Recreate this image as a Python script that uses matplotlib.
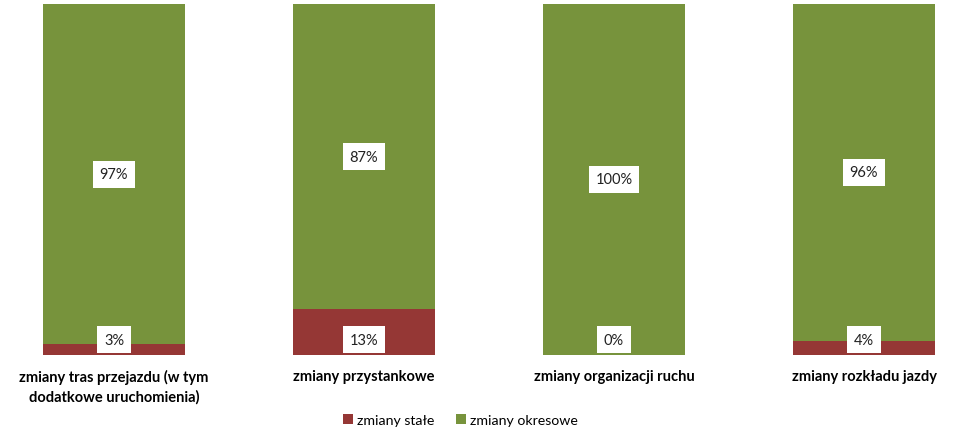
import numpy as np
import matplotlib.pyplot as plt

# dane
categories = ["zmiany tras przejazdu (w tym\ndodatkowe uruchomienia)",
              "zmiany przystankowe",
              "zmiany organizacji ruchu",
              "zmiany rozkładu jazdy"]
stale = [3, 13, 0, 4]
okresowe = [97, 87, 100, 96]
series_names = ["zmiany stałe", "zmiany okresowe"]

plt.rcParams['font.family'] = ['Lato', 'DejaVu Sans']

W, H = 957, 435
fig = plt.figure(figsize=(W / 100, H / 100), dpi=100)
ax = fig.add_axes([0, (H - 356) / H, 1, 351 / H])

x = np.arange(len(categories))
s = np.array(stale) / 100
o = np.array(okresowe) / 100
b1 = ax.bar(x, s, width=0.568, color="#953735", label=series_names[0])
b2 = ax.bar(x, o, width=0.568, bottom=s, color="#77933C", label=series_names[1])

box = dict(boxstyle="square,pad=0.45", fc="white", ec="none")
for i in range(len(x)):
    ax.annotate(f"{stale[i]}%", xy=(x[i], 0), xytext=(0, 11), textcoords="offset points",
                ha="center", va="center", fontsize=10.5, color="#222222", bbox=box)
    ax.text(x[i], s[i] + o[i] / 2, f"{okresowe[i]}%", ha="center", va="center",
            fontsize=10.5, color="#222222", bbox=box)

ax.set_xlim(-114 / 250, (W - 114) / 250)
ax.set_ylim(0, 1)
ax.set_xticks(x)
ax.set_xticklabels(categories, fontweight="bold", fontsize=10.5, linespacing=1.45)
ax.tick_params(axis="x", length=0, pad=10)
ax.set_yticks([])
for sp in ax.spines.values():
    sp.set_visible(False)

fig.legend(handles=[b1, b2], loc="center", bbox_to_anchor=(0.481, 1 - 421 / H),
           ncol=2, frameon=False, fontsize=10.2, handlelength=0.7, handleheight=0.7,
           handletextpad=0.3, columnspacing=1.5)

fig.savefig("out.png", dpi=100)
